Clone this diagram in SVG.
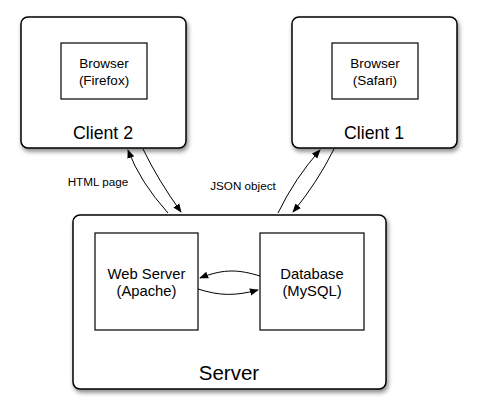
<svg xmlns="http://www.w3.org/2000/svg" width="478" height="414" viewBox="0 0 478 414">
<style>
.outer{fill:#fff;stroke:#000;stroke-width:1.5;filter:url(#sh)}
.inner{fill:#fff;stroke:#000;stroke-width:1.2}
text{font-family:"Liberation Sans",Arial,sans-serif;fill:#000;text-anchor:middle}
.s{font-size:13.5px}
.m{font-size:14.8px}
.big{font-size:17.7px}
.huge{font-size:20.5px}
.lbl{font-size:11.7px}
.c{fill:none;stroke:#000;stroke-width:1;marker-end:url(#ah)}
</style>
<defs>
<filter id="sh" x="-10%" y="-10%" width="125%" height="130%">
<feDropShadow dx="1.5" dy="3" stdDeviation="2.2" flood-color="#000" flood-opacity="0.45"/>
</filter>
<marker id="ah" viewBox="0 0 10 10" refX="9" refY="5" markerWidth="9" markerHeight="9" markerUnits="userSpaceOnUse" orient="auto">
<path d="M0,1 L10,5 L0,9 z" fill="#000"/>
</marker>
</defs>
<g id="client2">
<rect class="outer" x="21" y="17" width="165" height="131" rx="7"/>
<rect class="inner" x="61" y="43" width="86" height="56"/>
<text class="s" x="104" y="68">Browser</text>
<text class="s" x="104" y="85">(Firefox)</text>
<text class="big" x="103" y="139">Client 2</text>
</g>
<g id="client1">
<rect class="outer" x="292" y="17" width="165" height="131" rx="7"/>
<rect class="inner" x="332" y="43" width="86" height="56"/>
<text class="s" x="375" y="68">Browser</text>
<text class="s" x="375" y="85">(Safari)</text>
<text class="big" x="374" y="139">Client 1</text>
</g>
<g id="server">
<rect class="outer" x="73" y="215" width="313" height="174" rx="7"/>
<g id="webserver">
<rect class="inner" x="95" y="233" width="103" height="97"/>
<text class="m" x="146.5" y="279">Web Server</text>
<text class="m" x="146.5" y="296">(Apache)</text>
</g>
<g id="database">
<rect class="inner" x="260" y="233" width="104" height="97"/>
<text class="m" x="312" y="279">Database</text>
<text class="m" x="312" y="296">(MySQL)</text>
</g>
<text class="huge" x="229" y="380">Server</text>
</g>
<g id="connectors">
<path class="c" d="M168,213 Q140,182 128,150"/>
<path class="c" d="M143,149 Q158,180 181,212"/>
<path class="c" d="M278,213 Q295,178 320,150"/>
<path class="c" d="M334,149 Q317,183 293,212"/>
<path class="c" d="M260,276 C240,270 225,268 200,278"/>
<path class="c" d="M198,289 C220,296 235,296 258,290"/>
<text class="lbl" x="98" y="186">HTML page</text>
<text class="lbl" x="243" y="190">JSON object</text>
</g>
</svg>
